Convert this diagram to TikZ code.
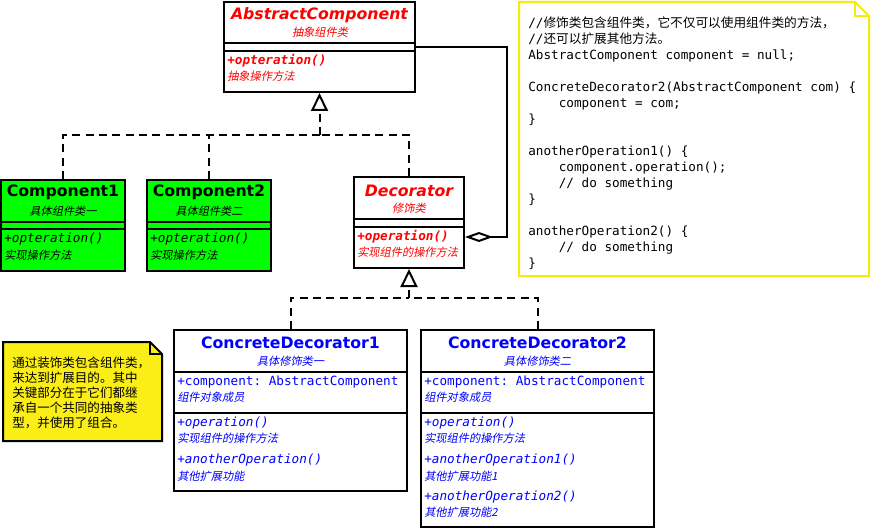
\documentclass[tikz,border=0pt]{standalone}
\usepackage{fontspec}
\setmainfont{DejaVu Sans}
\setmonofont{DejaVu Sans Mono}
\newfontfamily\cjk{Noto Sans CJK SC}
\newfontfamily\cjkit[FakeSlant=0.2]{Noto Sans CJK SC}
\usetikzlibrary{arrows.meta,fit}
\definecolor{notefill}{RGB}{250,238,22}
\definecolor{noteline}{RGB}{245,235,10}
\definecolor{leafgreen}{RGB}{0,255,0}
\tikzset{
  uml/.style={draw, line width=1.5pt, inner sep=0pt},
  title/.style={inner sep=0pt, font=\fontsize{11.8}{14}\selectfont\bfseries},
  atitle/.style={title, font=\fontsize{11.8}{14}\selectfont\bfseries\itshape},
  sub/.style={inner sep=0pt, font=\cjkit\fontsize{8.4}{10}\selectfont},
  lsub/.style={sub, anchor=west},
  item/.style={anchor=west, inner sep=0pt, font=\ttfamily\fontsize{9.5}{11}\selectfont},
  op/.style={item, font=\ttfamily\itshape\fontsize{9.5}{11}\selectfont},
  aop/.style={item, font=\ttfamily\bfseries\itshape\fontsize{9.5}{11}\selectfont},
  dep/.style={line width=1.5pt, dash pattern=on 6pt off 4pt},
  gen/.style={-{Triangle[open, length=13.5pt, width=12.75pt, line width=1.5pt]}},
  agg/.style={line width=1.5pt, {Diamond[open, length=21pt, width=7.5pt, line width=1.5pt]}-}
}
\begin{document}
\begin{tikzpicture}[x=0.75pt, y=-0.75pt]
  \useasboundingbox (0,0) rectangle (871,531);
  % abstract component
  \node[uml, fit={(224,2) (415,92)}] (ac) {};
  \draw[line width=1.5pt] (224,43) -- (415,43) (224,51) -- (415,51);
  \node[atitle, red] (act) at (319.5,15) {AbstractComponent};
  \node[sub, red] (acs) at (320,32) {抽象组件类};
  \node[aop, red] (aco) at (227,61) {+opteration()};
  \node[lsub, red] (acos) at (227,76) {抽象操作方法};
  % components
  \node[uml, fill=leafgreen, fit={(1,180) (125,271)}] (c1) {};
  \draw[line width=1.5pt] (1,222) -- (125,222) (1,229) -- (125,229);
  \node[title] (c1t) at (63,192) {Component1};
  \node[sub] (c1s) at (63,211) {具体组件类一};
  \node[op] (c1o) at (4,239) {+opteration()};
  \node[lsub] (c1os) at (4,255) {实现操作方法};
  \node[uml, fill=leafgreen, fit={(147,180) (271,271)}] (c2) {};
  \draw[line width=1.5pt] (147,222) -- (271,222) (147,229) -- (271,229);
  \node[title] (c2t) at (209,192) {Component2};
  \node[sub] (c2s) at (209,211) {具体组件类二};
  \node[op] (c2o) at (150,239) {+opteration()};
  \node[lsub] (c2os) at (150,255) {实现操作方法};
  % decorator
  \node[uml, fit={(354,177) (464,268)}] (dec) {};
  \draw[line width=1.5pt] (354,219) -- (464,219) (354,227) -- (464,227);
  \node[atitle, red] (dect) at (409,191) {Decorator};
  \node[sub, red] (decs) at (409,208) {修饰类};
  \node[aop, red] (deco) at (357,237) {+operation()};
  \node[lsub, red] (decos) at (357,252) {实现组件的操作方法};
  % concrete decorators
  \node[uml, fit={(174,330) (407,491)}] (cd1) {};
  \draw[line width=1.5pt] (174,372) -- (407,372) (174,413) -- (407,413);
  \node[title, blue] (cd1t) at (290.5,343) {ConcreteDecorator1};
  \node[sub, blue] (cd1s) at (290.5,361) {具体修饰类一};
  \node[item, blue] (cd1a) at (177,382) {+component: AbstractComponent};
  \node[lsub, blue] (cd1as) at (177,397) {组件对象成员};
  \node[op, blue] (cd1o) at (177,423) {+operation()};
  \node[lsub, blue] (cd1os) at (177,438) {实现组件的操作方法};
  \node[op, blue] (cd1p) at (177,460) {+anotherOperation()};
  \node[lsub, blue] (cd1ps) at (177,476) {其他扩展功能};
  \node[uml, fit={(421,330) (654,527)}] (cd2) {};
  \draw[line width=1.5pt] (421,372) -- (654,372) (421,413) -- (654,413);
  \node[title, blue] (cd2t) at (537.5,343) {ConcreteDecorator2};
  \node[sub, blue] (cd2s) at (537.5,361) {具体修饰类二};
  \node[item, blue] (cd2a) at (424,382) {+component: AbstractComponent};
  \node[lsub, blue] (cd2as) at (424,397) {组件对象成员};
  \node[op, blue] (cd2o) at (424,423) {+operation()};
  \node[lsub, blue] (cd2os) at (424,438) {实现组件的操作方法};
  \node[op, blue] (cd2p) at (424,460) {+anotherOperation1()};
  \node[lsub, blue] (cd2ps) at (424,476) {其他扩展功能1};
  \node[op, blue] (cd2q) at (424,497) {+anotherOperation2()};
  \node[lsub, blue] (cd2qs) at (424,512) {其他扩展功能2};
  % inheritance
  \coordinate (j1) at (319.5,135);
  \draw[dep] (c1.north) |- (j1);
  \draw[dep] (c2.north) -- (c2.north |- j1);
  \draw[dep] (dec.north) |- (j1);
  \draw[dep, gen] (j1) -- (ac.south);
  \coordinate (j2) at (409,298);
  \draw[dep] (cd1.north) |- (j2);
  \draw[dep] (cd2.north) |- (j2);
  \draw[dep, gen] (j2) -- (dec.south);
  % aggregation
  \coordinate (hold) at (507,237);
  \draw[agg] (dec.east |- hold) -- (hold) |- (ac.east);
  % notes
  \draw[line width=1.5pt, fill=notefill] (3,342) -- (150,342) -- (162,354) -- (162,441) -- (3,441) -- cycle;
  \draw[line width=1pt] (150,342) -- (150,354) -- (162,354);
  \node[anchor=north west, inner sep=0pt, align=left, font=\cjk\fontsize{9.4}{11.25}\selectfont] (tip) at (12,357)
    {通过装饰类包含组件类，\\来达到扩展目的。其中\\关键部分在于它们都继\\承自一个共同的抽象类\\型，并使用了组合。};
  \draw[line width=1.5pt, draw=noteline, fill=white] (519,2) -- (855,2) -- (869,16) -- (869,276) -- (519,276) -- cycle;
  \draw[line width=1pt, draw=noteline] (855,2) -- (855,16) -- (869,16);
  \node[anchor=north west, inner sep=0pt, align=left, font=\ttfamily\fontsize{9.5}{12}\selectfont] (code) at (528,16.5)
    {//{\cjk 修饰类包含组件类，它不仅可以使用组件类的方法，}\\
     //{\cjk 还可以扩展其他方法。}\\
     AbstractComponent component = null;\\
     \mbox{}\\
     ConcreteDecorator2(AbstractComponent com) \{\\
     \phantom{0000}component = com;\\
     \}\\
     \mbox{}\\
     anotherOperation1() \{\\
     \phantom{0000}component.operation();\\
     \phantom{0000}// do something\\
     \}\\
     \mbox{}\\
     anotherOperation2() \{\\
     \phantom{0000}// do something\\
     \}};
\end{tikzpicture}
\end{document}
